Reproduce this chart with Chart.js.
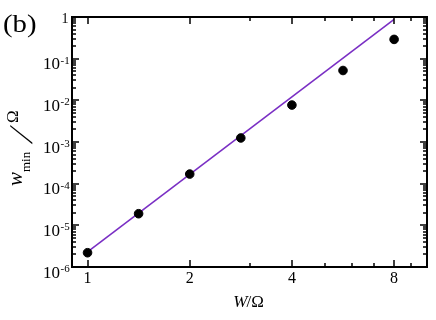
<!DOCTYPE html>
<html>
<head>
<meta charset="utf-8">
<script src="https://cdn.jsdelivr.net/npm/chart.js@4/dist/chart.umd.min.js"></script>
<style>html,body{margin:0;padding:0;background:#fff;}canvas{display:block;}</style>
</head>
<body>
<canvas id="c" width="436" height="320"></canvas>
<script>
// ---- data ----
const W_over_Omega = [1, 1.414, 2, 2.828, 4, 5.657, 8];
const wmin_over_Omega = [2.2e-6, 1.9e-5, 1.7e-4, 1.25e-3, 7.7e-3, 0.052, 0.29];
const fitX = [1, 8];
const fitY = [2.3e-6, 0.88];
const xTickValues = [1, 2, 4, 8];
const xTickLabels = ['1', '2', '4', '8'];
const xMinorTicks = [3, 5, 6, 7, 9];
const yTickValues = [1e-6, 1e-5, 1e-4, 1e-3, 1e-2, 1e-1, 1];
const yTickExponents = ['-6', '-5', '-4', '-3', '-2', '-1', ''];
const xTitle = ['W', '/Ω'];
const panelLabel = '(b)';

const SERIF = '"Liberation Serif", "DejaVu Serif", serif';

const frame = {
  id: 'frame',
  afterDraw(chart) {
    const ctx = chart.ctx, a = chart.chartArea;
    const xs = chart.scales.x, ys = chart.scales.y;
    ctx.save();
    ctx.strokeStyle = '#000';
    ctx.fillStyle = '#000';
    // box
    ctx.lineWidth = 2;
    ctx.strokeRect(a.left, a.top, a.right - a.left, a.bottom - a.top);
    // ticks
    ctx.lineWidth = 1.5;
    ctx.beginPath();
    const xt = (v, len) => {
      const p = Math.round(xs.getPixelForValue(v));
      ctx.moveTo(p, a.bottom); ctx.lineTo(p, a.bottom - len);
      ctx.moveTo(p, a.top); ctx.lineTo(p, a.top + len);
    };
    xTickValues.forEach(v => xt(v, 7));
    xMinorTicks.forEach(v => xt(v, 4));
    const yt = (v, len) => {
      const p = Math.round(ys.getPixelForValue(v));
      ctx.moveTo(a.left, p); ctx.lineTo(a.left + len, p);
      ctx.moveTo(a.right, p); ctx.lineTo(a.right - len, p);
    };
    yTickValues.forEach(v => yt(v, 7));
    for (let i = 0; i < yTickValues.length - 1; i++) {
      for (let k = 2; k <= 9; k++) yt(yTickValues[i] * k, 4);
    }
    ctx.stroke();
    // y tick labels
    yTickValues.forEach((v, i) => {
      const p = ys.getPixelForValue(v);
      const e = yTickExponents[i];
      if (e === '') {
        ctx.font = '14px ' + SERIF;
        ctx.textAlign = 'right';
        ctx.textBaseline = 'alphabetic';
        ctx.fillText('1', 68.5, p + 5.5);
      } else {
        ctx.font = '17px ' + SERIF;
        ctx.textAlign = 'right';
        ctx.textBaseline = 'alphabetic';
        ctx.fillText('10', 60, p + 10.5);
        ctx.font = '11px ' + SERIF;
        ctx.textAlign = 'left';
        ctx.fillText(e, 60.5, p + 5);
      }
    });
    // x title
    ctx.textBaseline = 'alphabetic';
    ctx.textAlign = 'left';
    ctx.font = 'italic 17px ' + SERIF;
    const w1 = ctx.measureText(xTitle[0]).width;
    ctx.font = '17px ' + SERIF;
    const w2 = ctx.measureText(xTitle[1]).width;
    const x0 = 249 - (w1 + w2) / 2;
    ctx.font = 'italic 17px ' + SERIF;
    ctx.fillText(xTitle[0], x0, 306.5);
    ctx.font = '17px ' + SERIF;
    ctx.fillText(xTitle[1], x0 + w1 - 1, 306.5);
    // y title (rotated)
    ctx.save();
    ctx.translate(0, 185);
    ctx.rotate(-Math.PI / 2);
    // rotated: +x = up on canvas, +y = right on canvas
    ctx.textAlign = 'left';
    ctx.font = 'italic 21px ' + SERIF;
    ctx.fillText('w', -1, 21.7);
    ctx.font = '13px ' + SERIF;
    ctx.fillText('min', 13, 30);
    ctx.save();
    ctx.translate(41, 31.5);
    ctx.transform(1, 0, -0.45, 1, 0, 0);
    ctx.font = '33px ' + SERIF;
    ctx.fillText('/', 0, 0);
    ctx.restore();
    ctx.font = '17px ' + SERIF;
    ctx.fillText('Ω', 62, 18.3);
    ctx.restore();
    // panel label
    ctx.save();
    ctx.translate(3, 31.5);
    ctx.scale(1.15, 1);
    ctx.font = '25px ' + SERIF;
    ctx.textAlign = 'left';
    ctx.fillText(panelLabel, 0, 0);
    ctx.restore();
    ctx.restore();
  }
};

new Chart(document.getElementById('c'), {
  data: {
    datasets: [
      {
        type: 'scatter',
        data: W_over_Omega.map((x, i) => ({x, y: wmin_over_Omega[i]})),
        backgroundColor: '#000',
        borderColor: '#000',
        pointRadius: 4.3,
        pointHoverRadius: 4.3,
        order: 1
      },
      {
        type: 'line',
        data: fitX.map((x, i) => ({x, y: fitY[i]})),
        borderColor: '#7a2fc4',
        borderWidth: 1.6,
        pointRadius: 0,
        fill: false,
        tension: 0,
        order: 2
      }
    ]
  },
  options: {
    responsive: false,
    animation: false,
    devicePixelRatio: 1,
    layout: {padding: {top: 17, right: 9, left: 0, bottom: 0}},
    plugins: {legend: {display: false}, tooltip: {enabled: false}},
    scales: {
      x: {
        type: 'logarithmic',
        min: 0.9, max: 10,
        grid: {display: false, drawTicks: false},
        border: {display: false},
        afterBuildTicks: s => { s.ticks = xTickValues.map(v => ({value: v})); },
        afterFit: s => { s.height = 53; },
        ticks: {
          padding: 2,
          color: '#000',
          font: {family: SERIF, size: 16},
          maxRotation: 0,
          autoSkip: false,
          callback: (v) => { const i = xTickValues.indexOf(v); return i >= 0 ? xTickLabels[i] : ''; }
        }
      },
      y: {
        type: 'logarithmic',
        min: 1e-6, max: 1,
        grid: {display: false, drawTicks: false},
        border: {display: false},
        afterBuildTicks: s => { s.ticks = yTickValues.map(v => ({value: v})); },
        afterFit: s => { s.width = 72; },
        ticks: {display: false}
      }
    }
  },
  plugins: [frame]
});
</script>
</body>
</html>
